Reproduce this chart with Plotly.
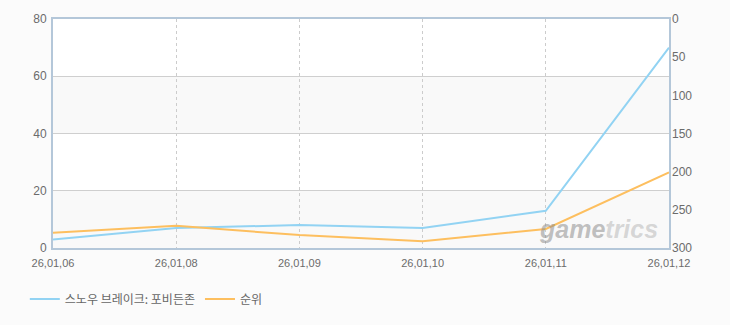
import plotly.graph_objects as go

categories = ["26,01,06", "26,01,08", "26,01,09", "26,01,10", "26,01,11", "26,01,12"]
score_values = [3, 7, 8, 7, 13, 70]
rank_values = [280, 271, 283, 291, 275, 201]
left_ticks = [0, 20, 40, 60, 80]
right_ticks = [0, 50, 100, 150, 200, 250, 300]
series_names = ["스노우 브레이크: 포비든존", "순위"]

FONT = "Noto Sans CJK KR, DejaVu Sans, sans-serif"
TICK_FONT = "Liberation Sans, Arial, sans-serif"
TICK_COLOR = "#6b6b6b"
BORDER = "#b4c7d9"

fig = go.Figure()
fig.add_trace(go.Scatter(
    x=categories, y=score_values, name=series_names[0], mode="lines",
    line=dict(color="#92d3f3", width=2), yaxis="y"))
fig.add_trace(go.Scatter(
    x=categories, y=rank_values, name=series_names[1], mode="lines",
    line=dict(color="#fdbf5f", width=2), yaxis="y2"))

shapes = []
for lo, hi in [(0, 20), (40, 60)]:
    shapes.append(dict(type="rect", xref="paper", yref="y", x0=0, x1=1, y0=lo, y1=hi,
                       fillcolor="#f9f9f9", line=dict(width=0), layer="below"))

fig.update_layout(
    width=730, height=325,
    margin=dict(l=53, r=61, t=17, b=77),
    paper_bgcolor="#fbfbfb", plot_bgcolor="#ffffff",
    font=dict(family=FONT, size=11, color=TICK_COLOR),
    shapes=shapes,
    showlegend=True,
    legend=dict(orientation="h", xref="container", yref="container", x=0.034, y=0.08,
                xanchor="left", yanchor="middle", font=dict(size=12, color="#666666"),
                itemwidth=30, tracegroupgap=0, bgcolor="rgba(0,0,0,0)"),
    xaxis=dict(type="category", range=[0, 5], showgrid=True, gridcolor="#cccccc",
               griddash="3px,3px", gridwidth=1, showline=True, linecolor=BORDER, linewidth=2,
               mirror=True, ticks="", ticklabelstandoff=4,
               tickfont=dict(family=TICK_FONT, size=11, color=TICK_COLOR), zeroline=False),
    yaxis=dict(range=[0, 80], tickvals=left_ticks, showgrid=True, gridcolor="#cfcfcf",
               gridwidth=1, showline=True, linecolor=BORDER, linewidth=2, mirror=True,
               ticks="", zeroline=False, ticklabelstandoff=2,
               tickfont=dict(family=TICK_FONT, size=12, color=TICK_COLOR)),
    yaxis2=dict(range=[300, 0], tickvals=right_ticks, overlaying="y", side="right",
                showgrid=False, showline=False, ticks="", zeroline=False, ticklabelstandoff=2,
                tickfont=dict(family=TICK_FONT, size=12, color=TICK_COLOR)),
    annotations=[dict(
        text="<b><i><span style='color:rgba(140,140,140,0.55)'>game</span>"
             "<span style='color:rgba(170,170,170,0.45)'>trics</span></i></b>",
        xref="paper", yref="paper", x=0.985, y=0.085, xanchor="right", yanchor="middle",
        showarrow=False, font=dict(family="Liberation Sans, Arial, sans-serif", size=25))],
)

fig.write_html("out.html")
